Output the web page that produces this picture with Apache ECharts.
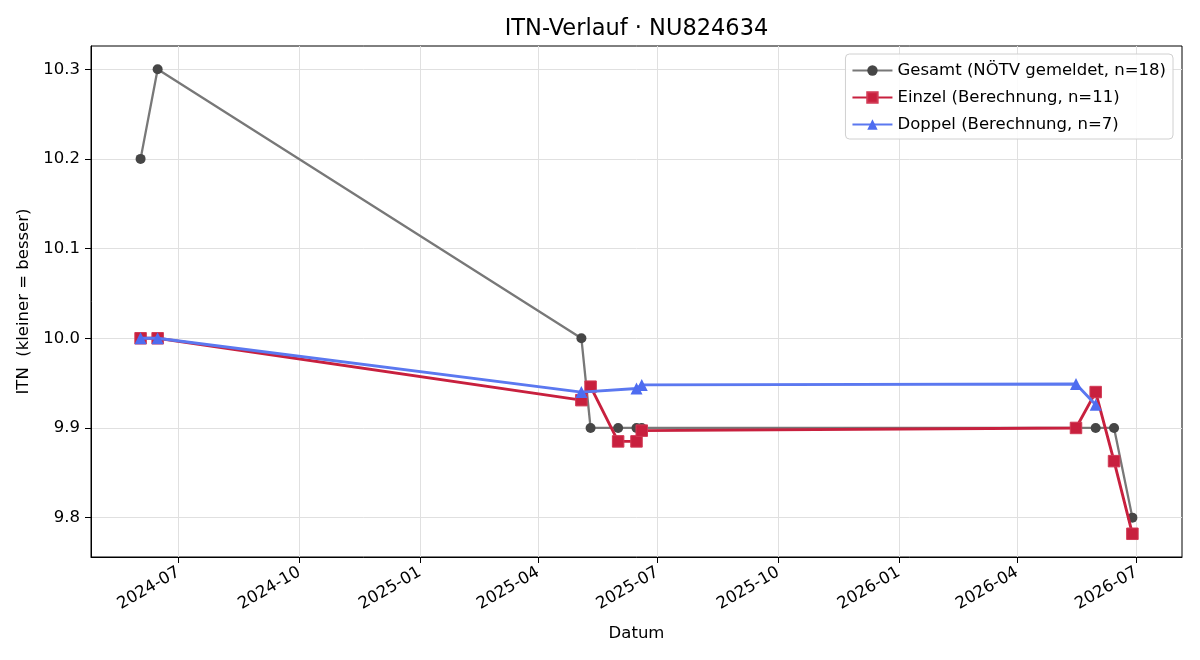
<!DOCTYPE html>
<html>
<head>
<meta charset="utf-8">
<script src="https://cdn.jsdelivr.net/npm/echarts@6/dist/echarts.min.js"></script>
<style>
html,body{margin:0;padding:0;background:#fff;}
#chart{width:1200px;height:660px;}
</style>
</head>
<body>
<div id="chart"></div>
<script>
// ---- data ----
const gesamtDates = ['2024-06-02','2024-06-15','2025-05-04','2025-05-11','2025-06-01','2025-06-15','2025-06-19','2026-05-16','2026-05-31','2026-06-14','2026-06-28'];
const gesamtValues = [10.2, 10.3, 10.0, 9.9, 9.9, 9.9, 9.9, 9.9, 9.9, 9.9, 9.8];

const einzelDates = ['2024-06-02','2024-06-15','2025-05-04','2025-05-11','2025-06-01','2025-06-15','2025-06-19','2026-05-16','2026-05-31','2026-06-14','2026-06-28'];
const einzelValues = [10.0, 10.0, 9.931, 9.946, 9.885, 9.885, 9.897, 9.9, 9.94, 9.863, 9.782];

const doppelDates = ['2024-06-02','2024-06-15','2025-05-04','2025-06-15','2025-06-19','2026-05-16','2026-05-31'];
const doppelValues = [10.0, 10.0, 9.94, 9.944, 9.948, 9.949, 9.926];

const xTickLabels = ['2024-07','2024-10','2025-01','2025-04','2025-07','2025-10','2026-01','2026-04','2026-07'];
const yTickValues = [9.8, 9.9, 10.0, 10.1, 10.2, 10.3];

const seriesNames = ['Gesamt (NÖTV gemeldet, n=18)', 'Einzel (Berechnung, n=11)', 'Doppel (Berechnung, n=7)'];
const titleText = 'ITN-Verlauf · NU824634';
const xName = 'Datum';
const yName = 'ITN  (kleiner = besser)';

// ---- helpers ----
function ts(d) { const p = d.split('-').map(Number); return Date.UTC(p[0], p[1] - 1, p[2] || 1); }
function pairs(dates, vals) { return dates.map((d, i) => [ts(d), vals[i]]); }

const allT = gesamtDates.concat(einzelDates, doppelDates).map(ts);
const tMin = Math.min.apply(null, allT), tMax = Math.max.apply(null, allT);
const tPad = (tMax - tMin) * 0.05;
const allV = gesamtValues.concat(einzelValues, doppelValues);
const vMin = Math.min.apply(null, allV), vMax = Math.max.apply(null, allV);
const vPad = (vMax - vMin) * 0.05;
const xTickValues = xTickLabels.map(ts);

const FONT = 'DejaVu Sans';
const FS = 16.5;
const chart = echarts.init(document.getElementById('chart'), null, { renderer: 'canvas' });

chart.setOption({
  backgroundColor: '#fff',
  animation: false,
  textStyle: { fontFamily: FONT },
  graphic: [{
    type: 'text', x: 636.5, y: 29,
    style: { text: titleText, fontFamily: FONT, fontSize: 22.5, fill: '#000', textAlign: 'center', textVerticalAlign: 'middle' }
  }],
  grid: { left: 91, right: 18, top: 46, bottom: 103, show: true, borderColor: '#000', borderWidth: 1, backgroundColor: 'transparent' },
  legend: {
    orient: 'vertical', right: 27, top: 54,
    padding: [8, 7, 6, 6],
    itemWidth: 40, itemHeight: 13, itemGap: 10,
    backgroundColor: 'rgba(255,255,255,0.85)', borderColor: '#d0d0d0', borderWidth: 1, borderRadius: 4,
    textStyle: { fontFamily: FONT, fontSize: FS, color: '#000' },
    data: seriesNames
  },
  xAxis: {
    type: 'value',
    min: tMin - tPad, max: tMax + tPad,
    name: xName, nameLocation: 'middle', nameGap: 68,
    nameTextStyle: { fontFamily: FONT, fontSize: FS, color: '#000' },
    axisLine: { show: true, onZero: false, lineStyle: { color: '#000', width: 1 } },
    axisTick: { show: true, inside: false, length: 6, lineStyle: { color: '#000' }, customValues: xTickValues },
    axisLabel: {
      customValues: xTickValues,
      rotate: 30, margin: 14, fontFamily: FONT, fontSize: FS, color: '#000',
      formatter: function (v) { const d = new Date(v); return d.getUTCFullYear() + '-' + String(d.getUTCMonth() + 1).padStart(2, '0'); }
    },
    splitLine: { show: true, lineStyle: { color: '#e0e0e0', width: 1 } }
  },
  yAxis: {
    type: 'value',
    min: vMin - vPad, max: vMax + vPad,
    name: yName, nameLocation: 'middle', nameGap: 50, nameRotate: 90,
    nameTextStyle: { fontFamily: FONT, fontSize: FS, color: '#000' },
    axisLine: { show: true, onZero: false, lineStyle: { color: '#000', width: 1 } },
    axisTick: { show: true, inside: false, length: 6, lineStyle: { color: '#000' }, customValues: yTickValues },
    axisLabel: { customValues: yTickValues, margin: 11, fontFamily: FONT, fontSize: FS, color: '#000', formatter: v => Number(v).toFixed(1) },
    splitLine: { show: true, lineStyle: { color: '#e0e0e0', width: 1 } }
  },
  series: [
    {
      name: seriesNames[0], type: 'line', data: pairs(gesamtDates, gesamtValues),
      symbol: 'circle', symbolSize: 10, showAllSymbol: true,
      lineStyle: { color: '#787878', width: 2.3 },
      itemStyle: { color: '#464646', borderWidth: 0 },
      z: 2
    },
    {
      name: seriesNames[1], type: 'line', data: pairs(einzelDates, einzelValues),
      symbol: 'rect', symbolSize: 11.5, showAllSymbol: true,
      lineStyle: { color: '#c8203e', width: 2.9 },
      itemStyle: { color: '#c8203e', borderColor: '#d23a55', borderWidth: 1 },
      z: 3
    },
    {
      name: seriesNames[2], type: 'line', data: pairs(doppelDates, doppelValues),
      symbol: 'triangle', symbolSize: 12, showAllSymbol: true,
      lineStyle: { color: '#5b78f0', width: 2.9 },
      itemStyle: { color: '#4e6cf0', borderWidth: 0 },
      z: 4
    }
  ]
});
</script>
</body>
</html>
